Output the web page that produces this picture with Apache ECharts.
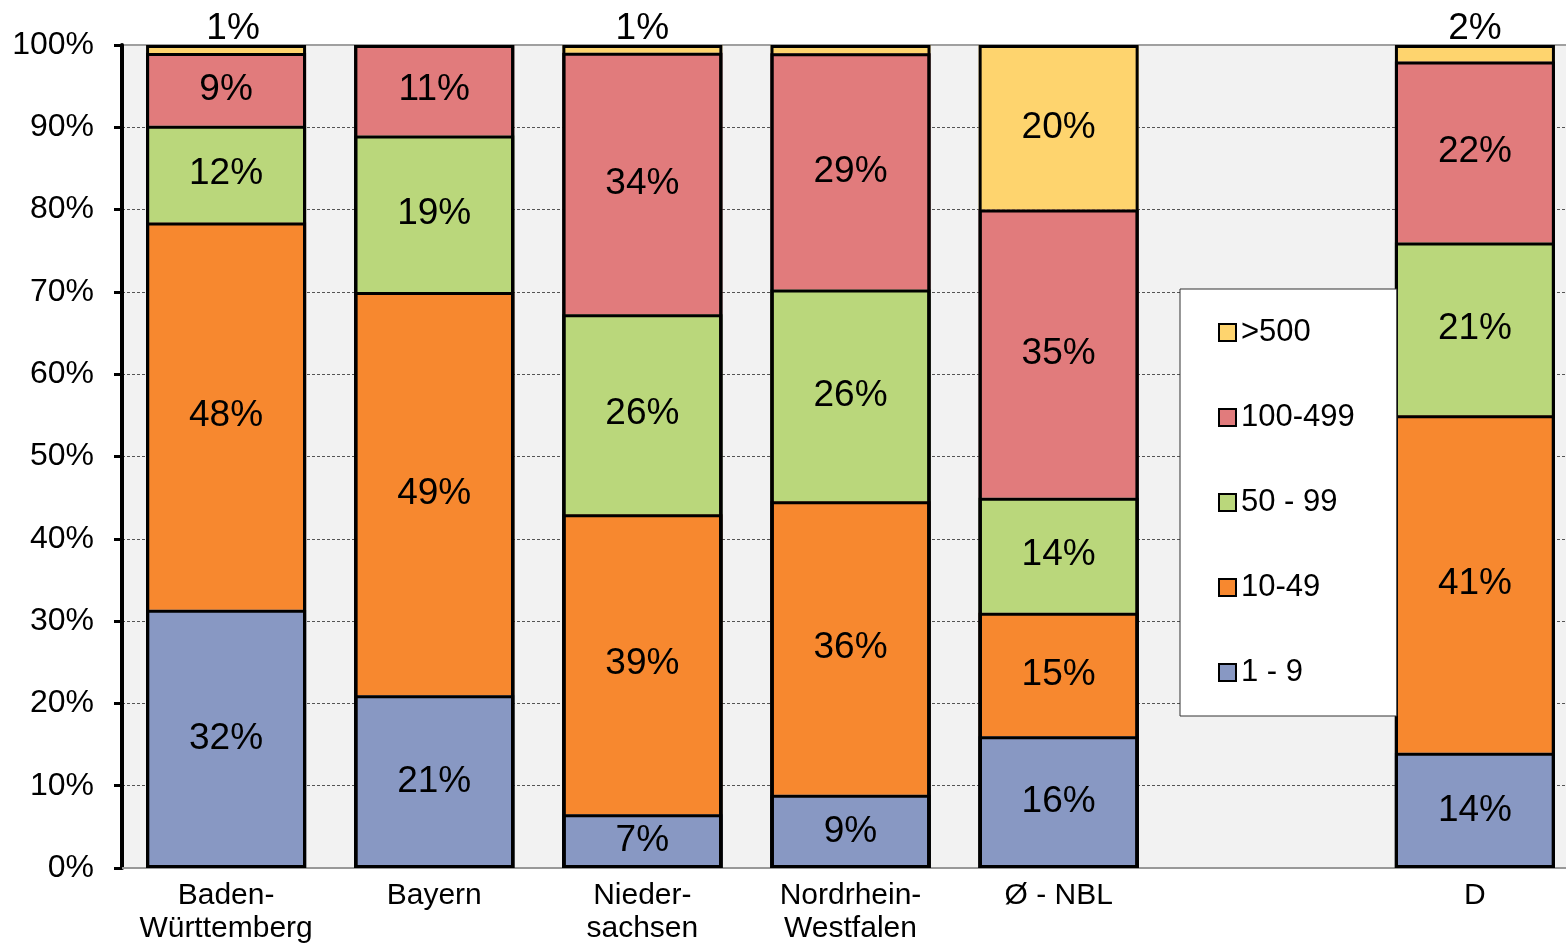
<!DOCTYPE html>
<html>
<head>
<meta charset="utf-8">
<script src="https://cdn.jsdelivr.net/npm/echarts@6/dist/echarts.min.js"></script>
<style>html,body{margin:0;padding:0;background:#fff}#c{width:1566px;height:943px}</style>
</head>
<body>
<div id="c"></div>
<script>
// ---- data (percent labels as shown in the chart) ----
const categories = ['Baden-\nWürttemberg', 'Bayern', 'Nieder-\nsachsen', 'Nordrhein-\nWestfalen', 'Ø - NBL', '', 'D'];
const seriesNames = ['1 - 9', '10-49', '50 - 99', '100-499', '>500'];
const v1_9     = [32, 21, 7, 9, 16, null, 14];
const v10_49   = [48, 49, 39, 36, 15, null, 41];
const v50_99   = [12, 19, 26, 26, 14, null, 21];
const v100_499 = [9, 11, 34, 29, 35, null, 22];
const v500     = [1, 0, 1, 1, 20, null, 2];
const yTicks = [0, 10, 20, 30, 40, 50, 60, 70, 80, 90, 100];

const allValues = [v1_9, v10_49, v50_99, v100_499, v500];
const colors = ['#8898C3', '#F7882F', '#BAD77B', '#E17B7C', '#FED46E'];
const FONT = "'Liberation Sans', Arial, sans-serif";

// totals per category, bars are drawn as 100% stacked shares
const totals = categories.map((c, i) => {
  let s = 0; let any = false;
  allValues.forEach(a => { if (a[i] != null) { s += a[i]; any = true; } });
  return any ? s : null;
});

// labels not shown in the reference
const hiddenLabel = { 4: [3] };

const series = allValues.map((arr, si) => ({
  name: seriesNames[si],
  type: 'bar',
  stack: 'total',
  barWidth: 160,
  barGap: '-100%',
  itemStyle: { color: colors[si], borderWidth: 0 },
  data: arr.map((v, i) => {
    if (v == null || totals[i] == null) return null;
    const share = v / totals[i] * 100;
    const hide = v === 0 || (hiddenLabel[si] && hiddenLabel[si].indexOf(i) >= 0);
    const small = v < 5;
    return {
      value: share,
      label: {
        show: !hide,
        position: small ? 'top' : 'inside',
        distance: 0,
        offset: small ? [i === 0 ? 7 : 0, 2] : [0, 0],
        formatter: () => v + '%',
        color: '#000',
        fontSize: 37,
        fontFamily: FONT
      }
    };
  })
}));

// outlines: one transparent bar per cumulative level, giving single black boundaries
allValues.forEach((arr, si) => {
  series.push({
    name: 'outline' + si,
    type: 'bar',
    barWidth: 160,
    barGap: '-100%',
    silent: true,
    itemStyle: { color: 'rgba(0,0,0,0)', borderColor: '#000', borderWidth: 3 },
    label: { show: false },
    data: arr.map((v, i) => {
      if (v == null || totals[i] == null) return null;
      let cum = 0;
      for (let k = 0; k <= si; k++) cum += allValues[k][i] || 0;
      return cum / totals[i] * 100;
    })
  });
});

const chart = echarts.init(document.getElementById('c'));
chart.setOption({
  animation: false,
  backgroundColor: '#fff',
  grid: {
    left: 122, top: 45, width: 1457, height: 823,
    outerBoundsMode: 'none',
    containLabel: false,
    show: true, backgroundColor: '#F2F2F2', borderColor: '#A0A0A0', borderWidth: 2
  },
  legend: {
    orient: 'vertical',
    left: 1180, top: 289,
    data: seriesNames.slice().reverse(),
    icon: 'rect',
    itemWidth: 17, itemHeight: 17,
    itemGap: 54,
    padding: [28, 42, 28, 38],
    backgroundColor: '#fff',
    borderColor: '#333', borderWidth: 1,
    itemStyle: { borderColor: '#000', borderWidth: 2 },
    textStyle: { fontSize: 31, lineHeight: 30, color: '#000', fontFamily: FONT }
  },
  xAxis: {
    type: 'category',
    data: categories,
    axisLine: { lineStyle: { color: '#999', width: 2 } },
    axisTick: { show: false },
    axisLabel: { color: '#000', fontSize: 30, lineHeight: 33, margin: 11, fontFamily: FONT, interval: 0 }
  },
  yAxis: {
    type: 'value',
    min: yTicks[0], max: yTicks[yTicks.length - 1], interval: yTicks[1] - yTicks[0],
    axisLine: { show: true, lineStyle: { color: '#000', width: 4 } },
    axisTick: { show: true, length: 8, lineStyle: { color: '#000', width: 3 } },
    axisLabel: { formatter: '{value}%', color: '#000', fontSize: 32, margin: 28, fontFamily: FONT },
    splitLine: { show: true, showMinLine: false, showMaxLine: false, lineStyle: { color: '#555', width: 1, type: [3, 2] } }
  },
  series: series
});
</script>
</body>
</html>
